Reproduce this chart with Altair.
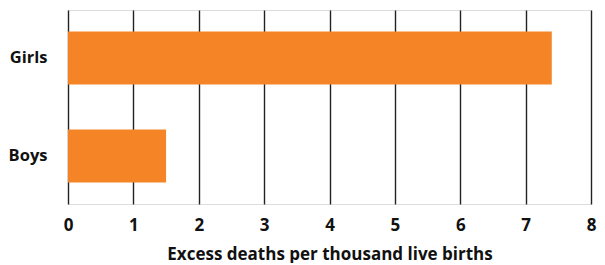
import altair as alt
import pandas as pd

categories = ["Girls", "Boys"]
values = [7.4, 1.5]
x_ticks = [0, 1, 2, 3, 4, 5, 6, 7, 8]

df = pd.DataFrame({"group": categories, "value": values})

FONT = "Open Sans"

chart = alt.Chart(df).mark_bar(color="#F58426").encode(
    x=alt.X(
        "value:Q",
        scale=alt.Scale(domain=[0, 8], nice=False),
        axis=alt.Axis(
            values=x_ticks,
            title="Excess deaths per thousand live births",
            titleFont=FONT,
            titleFontSize=17,
            titleFontWeight="bold",
            titleColor="#111111",
            titlePadding=13,
            labelFont=FONT,
            labelFontSize=17,
            labelFontWeight="bold",
            labelColor="#111111",
            labelPadding=13,
            labelFlush=False,
            grid=True,
            gridColor="#222222",
            gridWidth=1.4,
            domain=False,
            ticks=False,
            format="d",
        ),
    ),
    y=alt.Y(
        "group:N",
        sort=categories,
        scale=alt.Scale(paddingInner=0.46, paddingOuter=0.22),
        axis=alt.Axis(
            title=None,
            labelFont=FONT,
            labelFontSize=16.5,
            labelFontWeight="bold",
            labelColor="#111111",
            labelPadding=21,
            domain=False,
            ticks=False,
            grid=False,
        ),
    ),
).properties(
    width=523,
    height=194,
    autosize=alt.AutoSizeParams(type="none"),
    padding={"left": 60, "top": 2, "right": 6, "bottom": 59},
).configure_view(stroke=None).configure(background="white")

chart.save("out.html", embed_options={"renderer": "svg", "actions": False})
